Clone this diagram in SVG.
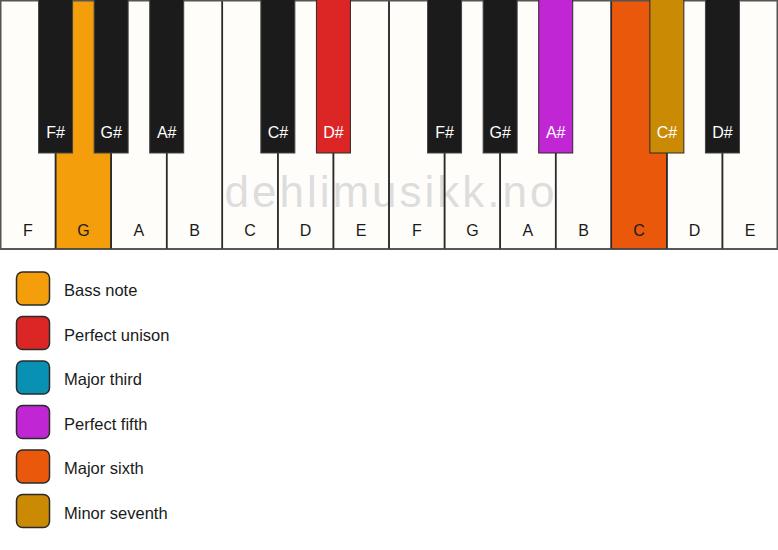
<svg xmlns="http://www.w3.org/2000/svg" width="778" height="550" viewBox="0 0 778 550">
<style>
.w{fill:#fffdf9}
.o{fill:none;stroke:#2a2a2a;stroke-width:1.5}
.b{fill:#1b1b1b;stroke:#444;stroke-width:1}
.wl{font-family:"Liberation Sans",Arial,sans-serif;font-size:16px;fill:#1a1a1a;text-anchor:middle}
.bl{font-family:"Liberation Sans",Arial,sans-serif;font-size:16px;fill:#ffffff;text-anchor:middle}
.lg{stroke:#2a2a2a;stroke-width:1.5}
.lt{font-family:"Liberation Sans",Arial,sans-serif;font-size:16.5px;fill:#1a1a1a}
</style>
<rect width="778" height="550" fill="#ffffff"/>
<g id="white-keys">
<rect class="w" x="0" y="0" width="55.57" height="249"/>
<rect class="w" x="55.57" y="0" width="55.57" height="249" style="fill:#f59e0b"/>
<rect class="w" x="111.14" y="0" width="55.57" height="249"/>
<rect class="w" x="166.71" y="0" width="55.57" height="249"/>
<rect class="w" x="222.29" y="0" width="55.57" height="249"/>
<rect class="w" x="277.86" y="0" width="55.57" height="249"/>
<rect class="w" x="333.43" y="0" width="55.57" height="249"/>
<rect class="w" x="389" y="0" width="55.57" height="249"/>
<rect class="w" x="444.57" y="0" width="55.57" height="249"/>
<rect class="w" x="500.14" y="0" width="55.57" height="249"/>
<rect class="w" x="555.71" y="0" width="55.57" height="249"/>
<rect class="w" x="611.29" y="0" width="55.57" height="249" style="fill:#ea580c"/>
<rect class="w" x="666.86" y="0" width="55.57" height="249"/>
<rect class="w" x="722.43" y="0" width="55.57" height="249"/>
</g>
<text x="391" y="207" font-family="Liberation Sans,Arial,sans-serif" font-size="44" letter-spacing="3" fill="#dddddd" text-anchor="middle">dehlimusikk.no</text>
<g id="white-key-outlines">
<rect class="o" x="0" y="0" width="55.57" height="249"/>
<rect class="o" x="55.57" y="0" width="55.57" height="249"/>
<rect class="o" x="111.14" y="0" width="55.57" height="249"/>
<rect class="o" x="166.71" y="0" width="55.57" height="249"/>
<rect class="o" x="222.29" y="0" width="55.57" height="249"/>
<rect class="o" x="277.86" y="0" width="55.57" height="249"/>
<rect class="o" x="333.43" y="0" width="55.57" height="249"/>
<rect class="o" x="389" y="0" width="55.57" height="249"/>
<rect class="o" x="444.57" y="0" width="55.57" height="249"/>
<rect class="o" x="500.14" y="0" width="55.57" height="249"/>
<rect class="o" x="555.71" y="0" width="55.57" height="249"/>
<rect class="o" x="611.29" y="0" width="55.57" height="249"/>
<rect class="o" x="666.86" y="0" width="55.57" height="249"/>
<rect class="o" x="722.43" y="0" width="55.57" height="249"/>
<rect x="0.75" y="0.75" width="776.5" height="248.5" fill="none" stroke="#555" stroke-width="1.5"/>
</g>
<g id="white-labels">
<text class="wl" x="27.8" y="236">F</text>
<text class="wl" x="83.4" y="236">G</text>
<text class="wl" x="138.9" y="236">A</text>
<text class="wl" x="194.5" y="236">B</text>
<text class="wl" x="250.1" y="236">C</text>
<text class="wl" x="305.6" y="236">D</text>
<text class="wl" x="361.2" y="236">E</text>
<text class="wl" x="416.8" y="236">F</text>
<text class="wl" x="472.4" y="236">G</text>
<text class="wl" x="527.9" y="236">A</text>
<text class="wl" x="583.5" y="236">B</text>
<text class="wl" x="639.1" y="236">C</text>
<text class="wl" x="694.6" y="236">D</text>
<text class="wl" x="750.2" y="236">E</text>
</g>
<g id="black-keys">
<rect class="b" x="38.57" y="-1" width="34" height="154"/>
<rect class="b" x="94.14" y="-1" width="34" height="154"/>
<rect class="b" x="149.71" y="-1" width="34" height="154"/>
<rect class="b" x="260.86" y="-1" width="34" height="154"/>
<rect class="b" x="316.43" y="-1" width="34" height="154" style="fill:#dc2626;stroke:#2a2a2a"/>
<rect class="b" x="427.57" y="-1" width="34" height="154"/>
<rect class="b" x="483.14" y="-1" width="34" height="154"/>
<rect class="b" x="538.71" y="-1" width="34" height="154" style="fill:#c026d3;stroke:#2a2a2a"/>
<rect class="b" x="649.86" y="-1" width="34" height="154" style="fill:#ca8a04;stroke:#2a2a2a"/>
<rect class="b" x="705.43" y="-1" width="34" height="154"/>
</g>
<g id="black-labels">
<text class="bl" x="55.57" y="138">F#</text>
<text class="bl" x="111.14" y="138">G#</text>
<text class="bl" x="166.71" y="138">A#</text>
<text class="bl" x="277.86" y="138">C#</text>
<text class="bl" x="333.43" y="138">D#</text>
<text class="bl" x="444.57" y="138">F#</text>
<text class="bl" x="500.14" y="138">G#</text>
<text class="bl" x="555.71" y="138">A#</text>
<text class="bl" x="666.86" y="138">C#</text>
<text class="bl" x="722.43" y="138">D#</text>
</g>
<g id="legend">
<g id="legend-bass"><rect class="lg" x="16.5" y="272" width="33" height="33" rx="6" fill="#f59e0b"/><text class="lt" x="64" y="296">Bass note</text></g>
<g id="legend-unison"><rect class="lg" x="16.5" y="316.5" width="33" height="33" rx="6" fill="#dc2626"/><text class="lt" x="64" y="340.5">Perfect unison</text></g>
<g id="legend-third"><rect class="lg" x="16.5" y="361" width="33" height="33" rx="6" fill="#0891b2"/><text class="lt" x="64" y="385">Major third</text></g>
<g id="legend-fifth"><rect class="lg" x="16.5" y="405.5" width="33" height="33" rx="6" fill="#c026d3"/><text class="lt" x="64" y="429.5">Perfect fifth</text></g>
<g id="legend-sixth"><rect class="lg" x="16.5" y="450" width="33" height="33" rx="6" fill="#ea580c"/><text class="lt" x="64" y="474">Major sixth</text></g>
<g id="legend-seventh"><rect class="lg" x="16.5" y="494.5" width="33" height="33" rx="6" fill="#ca8a04"/><text class="lt" x="64" y="518.5">Minor seventh</text></g>
</g>
<g id="connectors"/>
</svg>
